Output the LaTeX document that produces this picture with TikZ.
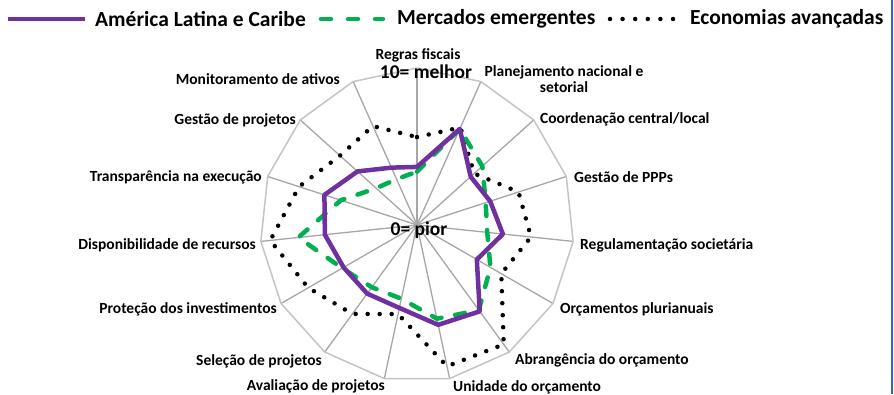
\documentclass[tikz,border=0pt]{standalone}
\usepackage{fontspec}
\setmainfont{Carlito}
\definecolor{lacpurple}{RGB}{112,48,160}
\definecolor{emgreen}{RGB}{0,176,80}
\definecolor{spokegray}{RGB}{166,166,166}
\definecolor{ringgray}{RGB}{196,196,196}
\definecolor{edgeblue}{RGB}{31,111,190}
\tikzset{
  axislabel/.style={font=\bfseries\fontsize{15.5}{16.5}\selectfont, inner sep=0pt},
  keylabel/.style={font=\bfseries\fontsize{21.5}{22}\selectfont, inner sep=0pt, anchor=west},
  scalelabel/.style={font=\bfseries\fontsize{19.5}{20}\selectfont, inner sep=0pt},
  lacline/.style={lacpurple, line width=4.5pt, line join=round},
  emline/.style={emgreen, line width=4.5pt, line cap=round, dash pattern=on 10pt off 14pt},
  aeline/.style={black, line width=4.5pt, line cap=round, dash pattern=on 0pt off 12pt}
}
\begin{document}
\begin{tikzpicture}[x=1pt, y=1pt]
  \useasboundingbox (-417,-169) rectangle (477,225);
  % grid: spokes and outer ring
  \foreach \k in {1,...,14}
    \draw[spokegray, line width=1.3pt] (0,0) -- ({90-24*\k}:157);
  \draw[spokegray, line width=2pt] (0,0) -- (90:157);
  \draw[ringgray, line width=1.5pt] (90:157)
    \foreach \k in {1,...,14} { -- ({90-24*\k}:157) } -- cycle;
  % series (scale 0..10, 15.7 per unit)
  \draw[aeline] (90:5.6*15.7)
    \foreach \v [count=\k] in {6.8,4.9,6.8,7.3,6.2,9.4,9.2,5.8,7.0,8.0,9.4,7.9,6.6,6.9}
      { -- ({90-24*\k}:{\v*15.7}) } -- cycle;
  \draw[emline] (90:3.4*15.7)
    \foreach \v [count=\k] in {6.7,5.6,4.6,4.5,5.4,6.7,6.1,4.8,4.9,5.5,7.6,5.1,3.5,3.2}
      { -- ({90-24*\k}:{\v*15.7}) } -- cycle;
  \draw[lacline] (90:3.7*15.7)
    \foreach \v [count=\k] in {6.7,4.6,4.9,5.5,4.4,6.8,6.5,5.4,5.4,5.4,5.9,6.2,5.1,4.0}
      { -- ({90-24*\k}:{\v*15.7}) } -- cycle;
  % axis labels
  \node[axislabel] (regras) at (1,170) {Regras fiscais};
  \node[scalelabel] (melhor) at (9,153) {10= melhor};
  \node[scalelabel] (pior) at (2,-5) {0= pior};
  \node[axislabel, align=center] (planej) at (147,146) {Planejamento nacional e\\setorial};
  \node[axislabel, anchor=west] (coord) at (123,106) {Coordenação central/local};
  \node[axislabel, anchor=west] (gppp) at (157,48) {Gestão de PPPs};
  \node[axislabel, anchor=west] (regsoc) at (163,-20) {Regulamentação societária};
  \node[axislabel, anchor=west] (orcpl) at (143,-84) {Orçamentos plurianuais};
  \node[axislabel, anchor=west] (abrang) at (98,-135) {Abrangência do orçamento};
  \node[axislabel, anchor=west] (unid) at (36,-162) {Unidade do orçamento};
  \node[axislabel, anchor=east] (aval) at (-32,-161) {Avaliação de projetos};
  \node[axislabel, anchor=east] (selec) at (-95,-136) {Seleção de projetos};
  \node[axislabel, anchor=east] (protec) at (-140,-84) {Proteção dos investimentos};
  \node[axislabel, anchor=east] (dispon) at (-161,-20) {Disponibilidade de recursos};
  \node[axislabel, anchor=east] (transp) at (-155,48) {Transparência na execução};
  \node[axislabel, anchor=east] (gproj) at (-121,105) {Gestão de projetos};
  \node[axislabel, anchor=east] (monit) at (-77,146) {Monitoramento de ativos};
  % legend
  \coordinate (lacA) at (-409,206);
  \coordinate (lacB) at (-332,206);
  \draw[lacline] (lacA) -- (lacB);
  \node[keylabel] (lackey) at (-322,206) {América Latina e Caribe};
  \coordinate (emA) at (-96,206);
  \coordinate (emB) at (-34,206);
  \draw[emline, dash pattern=on 10pt off 17pt] (emA) -- (emB);
  \node[keylabel] (emkey) at (-20,206) {Mercados emergentes};
  \coordinate (aeA) at (193,206);
  \coordinate (aeB) at (258.5,206);
  \draw[aeline, dash pattern=on 0pt off 12.6pt] (aeA) -- (aeB);
  \node[keylabel] (aekey) at (273,206) {Economias avançadas};
  % right frame edge
  \draw[edgeblue, line width=2.2pt] (475,-169) -- (475,225);
\end{tikzpicture}
\end{document}
